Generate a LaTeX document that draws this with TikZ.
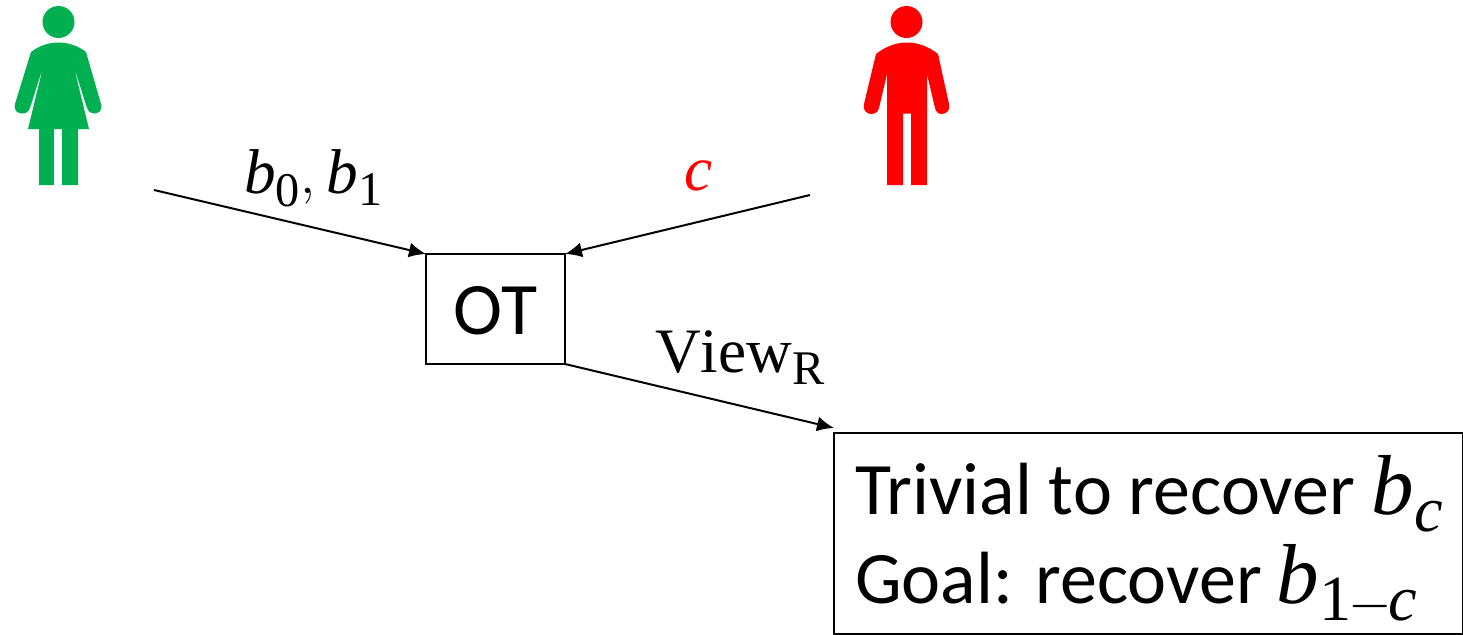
\documentclass[tikz,border=0pt]{standalone}
\usepackage{fix-cm}
\usepackage{mathspec}
\setmainfont{Carlito}
\setmathsfont(Digits,Latin)[Scale=1.15]{Liberation Serif}
\setmathrm[Scale=1.15]{Liberation Serif}
\DeclareMathSizes{74}{74}{56}{42}
\DeclareMathSizes{55}{55}{42}{32}
\usetikzlibrary{calc,arrows.meta}

\definecolor{sender}{RGB}{0,176,80}
\newcommand{\lowsub}[1]{\raisebox{-6pt}{$\scriptstyle #1$}}

\tikzset{
  link/.style={draw,line width=2pt,-{Latex[length=17pt,width=15pt]}},
  box/.style={draw,line width=1.5pt,inner sep=0pt,outer sep=0pt,anchor=north west},
  bigtext/.style={font=\fontsize{74}{89}\selectfont},
  partylabel/.style={font=\fontsize{55}{66}\selectfont}
}

\begin{document}
\begin{tikzpicture}[x=1pt,y=-1pt]
  \useasboundingbox (0,0) rectangle (1463,634);

  %% Sender figure
  \fill[sender] (58.5,22) circle (16);
  \fill[sender] (31,52) .. controls (40,45) and (50,42.5) .. (58.5,42.5)
    .. controls (67,42.5) and (77,45) .. (86,52) -- (101,104)
    .. controls (103,111) and (98,113.5) .. (94,113.5)
    .. controls (91,113.5) and (88.5,112) .. (87,108) -- (74,67) -- (89,129) -- (78,129)
    -- (78,185) -- (62,185) -- (62,129) -- (54,129) -- (54,185) -- (39,185) -- (39,129)
    -- (28,129) -- (43,67) -- (30,108)
    .. controls (28.5,112) and (26,113.5) .. (22,113.5)
    .. controls (18,113.5) and (13.5,111) .. (15,104) -- cycle;

  %% Receiver figure
  \fill[red] (906.5,22) circle (16);
  \fill[red] (876,54) .. controls (886,46) and (897,42.5) .. (907,42.5)
    .. controls (917,42.5) and (928,46) .. (938,54) -- (949,104)
    .. controls (951,110) and (946,114) .. (942,114)
    .. controls (938,114) and (936,112) .. (935,108) -- (927,74) -- (927,185)
    -- (911,185) -- (911,113.5) -- (903,113.5) -- (903,185) -- (887,185) -- (887,74)
    -- (879,108) .. controls (878,112) and (875,114) .. (871,114)
    .. controls (867,114) and (862,110) .. (864,104) -- cycle;

  %% Boxes
  \node[box,minimum width=139pt,minimum height=110pt] (OT) at (426,254) {};
  \node[bigtext] (OTtext) at ($(OT.center)+(0,2)$) {OT};
  \node[box,minimum width=629pt,minimum height=201pt] (result) at (834,433) {};
  \node[bigtext,anchor=base west,inner sep=0pt] (trivial) at (855,514) {Trivial to recover $b_{\lowsub{c}}$};
  \node[bigtext,anchor=base west,inner sep=0pt] (goal) at (855,603) {Goal: recover\kern-2pt{} $b_{1\mkern-1mu-\mkern-1mu c}$};

  %% Arrows into and out of the box
  \coordinate (senderOut) at (154,190);
  \coordinate (receiverOut) at (810,195);
  \coordinate (viewEnd) at (834,428);
  \path[link] (senderOut) -- (OT.north west);
  \path[link] (receiverOut) -- (OT.north east);
  \path[link] (OT.south east) -- (viewEnd);

  %% Labels
  \node[partylabel,anchor=base west,inner sep=0pt] (inputs) at (244,193) {$b_0,\kern2pt b_1$};
  \node[partylabel,anchor=base west,inner sep=0pt,text=red] (choice) at (684,190) {$c$};
  \node[partylabel,anchor=base west,inner sep=0pt] (view) at (655,372) {$\mathrm{View}_{\mathrm{R}}$};
\end{tikzpicture}
\end{document}
